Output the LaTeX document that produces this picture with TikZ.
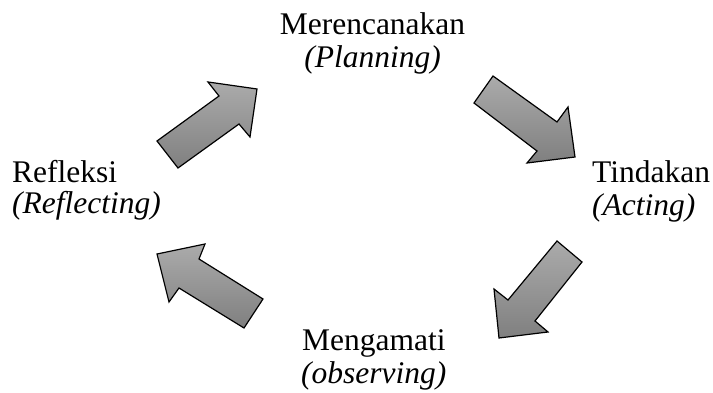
\documentclass[tikz,border=0pt]{standalone}
\usepackage{fontspec}
\setmainfont{Liberation Serif}

\begin{document}
\begin{tikzpicture}[x=1pt,y=-1pt]
\useasboundingbox (0,0) rectangle (713,393);
\tikzstyle{every node}=[inner sep=0pt,font=\fontsize{31.5}{33}\selectfont]
\tikzstyle{blk}=[draw=black,line width=1.2pt,line join=miter,top color=black!33,bottom color=black!50]

% labels
\node[anchor=base] (s1) at (372.5,35) {Merencanakan};
\node[anchor=base] (s1e) at (372.5,68) {\textit{(Planning)}};
\node[anchor=base west] (s2) at (592,183) {Tindakan};
\node[anchor=base west] (s2e) at (592,215) {\textit{(Acting)}};
\node[anchor=base west] (s3) at (302,350) {Mengamati};
\node[anchor=base west] (s3e) at (301,383) {\textit{(observing)}};
\node[anchor=base west] (s4) at (12,183) {Refleksi};
\node[anchor=base west] (s4e) at (12,214) {\textit{(Reflecting)}};

% block arrows
\draw[blk] (157,141) -- (219,96) -- (208,82) -- (257,89) -- (250,137) -- (239,124) -- (178,168) -- cycle;
\draw[blk] (493,76) -- (557,122) -- (568,107) -- (575,157) -- (527,163) -- (537,151) -- (474,103) -- cycle;
\draw[blk] (557,241) -- (508,300) -- (494,289) -- (499,338) -- (548,332) -- (535,321) -- (582,262) -- cycle;
\draw[blk] (263,299) -- (199,259) -- (205,244) -- (157,254) -- (169,302) -- (179,288) -- (244,328) -- cycle;
\end{tikzpicture}
\end{document}
